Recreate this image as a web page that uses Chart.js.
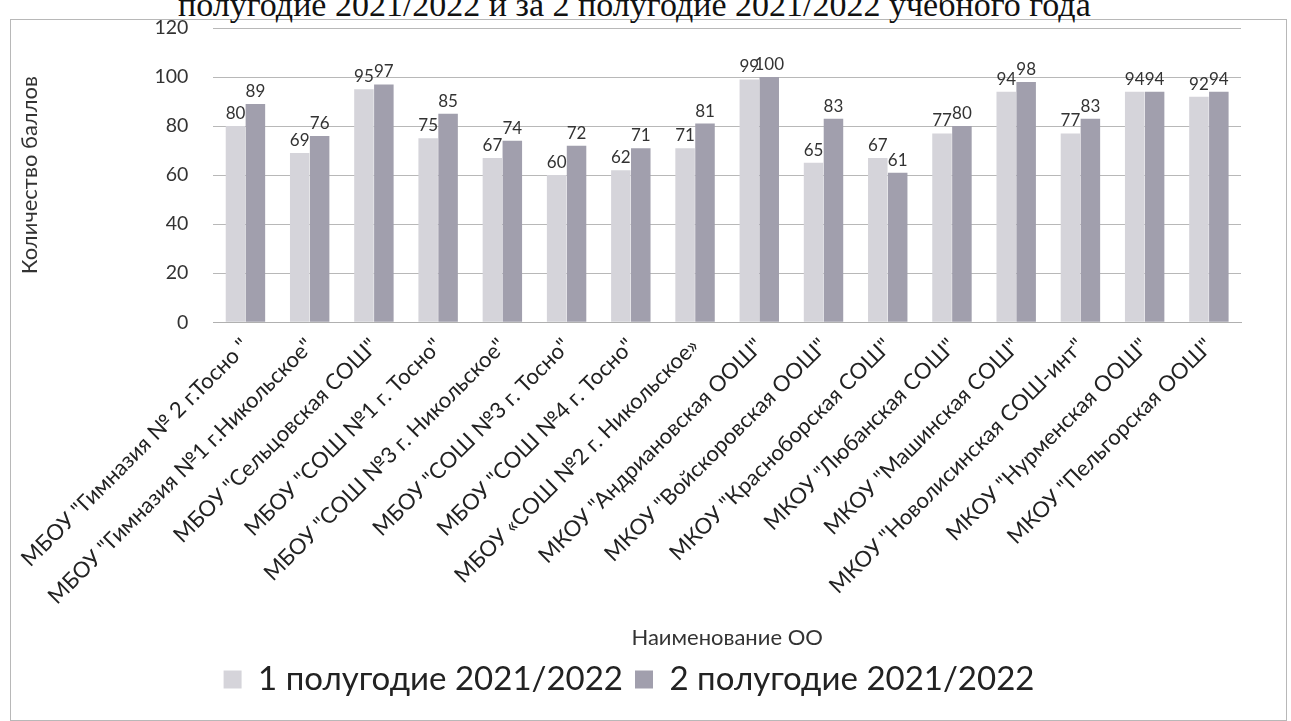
<!DOCTYPE html>
<html>
<head>
<meta charset="utf-8">
<script src="https://cdn.jsdelivr.net/npm/chart.js@4.4.0/dist/chart.umd.min.js"></script>
<style>
  body { margin: 0; background: #fff; }
  #wrap { position: relative; width: 1291px; height: 721px; overflow: hidden; }
  #frame { position: absolute; left: 10px; top: 19px; width: 1275px; height: 700px; border: 1px solid #b8b8b8; }
  #title { position: absolute; left: 178px; top: -12px; font: 34px/34px "Liberation Serif", serif; color: #111; white-space: nowrap; }
  canvas { position: absolute; left: 0; top: 0; }
</style>
</head>
<body>
<div id="wrap">
  <div id="frame"></div>
  <div id="title">полугодие 2021/2022 и за 2 полугодие 2021/2022 учебного года</div>
  <canvas id="chart" width="1291" height="721"></canvas>
</div>
<script>
var schools = [
  'МБОУ "Гимназия № 2 г.Тосно "',
  'МБОУ "Гимназия №1 г.Никольское"',
  'МБОУ "Сельцовская СОШ"',
  'МБОУ "СОШ №1 г. Тосно"',
  'МБОУ "СОШ №3 г. Никольское"',
  'МБОУ "СОШ №3 г. Тосно"',
  'МБОУ "СОШ №4 г. Тосно"',
  'МБОУ «СОШ №2 г. Никольское»',
  'МКОУ "Андриановская ООШ"',
  'МКОУ "Войскоровская ООШ"',
  'МКОУ "Красноборская СОШ"',
  'МКОУ "Любанская СОШ"',
  'МКОУ "Машинская СОШ"',
  'МКОУ "Новолисинская СОШ-инт"',
  'МКОУ "Нурменская ООШ"',
  'МКОУ "Пельгорская ООШ"'
];
var half1 = [80, 69, 95, 75, 67, 60, 62, 71, 99, 65, 67, 77, 94, 77, 94, 92];
var half2 = [89, 76, 97, 85, 74, 72, 71, 81, 100, 83, 61, 80, 98, 83, 94, 94];
var seriesNames = ['1 полугодие 2021/2022', '2 полугодие 2021/2022'];

var FONT = 'Lato, "Open Sans", sans-serif';

// value labels above the bars
var barLabels = {
  id: 'barLabels',
  afterDatasetsDraw: function(chart) {
    var ctx = chart.ctx;
    ctx.save();
    ctx.font = '17px ' + FONT;
    ctx.fillStyle = '#333';
    ctx.textAlign = 'center';
    ctx.textBaseline = 'bottom';
    chart.data.datasets.forEach(function(ds, i) {
      chart.getDatasetMeta(i).data.forEach(function(bar, j) {
        ctx.fillText(ds.data[j], bar.x, bar.y - 4);
      });
    });
    ctx.restore();
  }
};

new Chart(document.getElementById('chart'), {
  type: 'bar',
  data: {
    labels: schools,
    datasets: [{
      label: seriesNames[0],
      data: half1,
      backgroundColor: '#d5d4da'
    }, {
      label: seriesNames[1],
      data: half2,
      backgroundColor: '#a19fad'
    }]
  },
  options: {
    responsive: false,
    animation: false,
    layout: { padding: { left: 17, right: 50, top: 28, bottom: 15 } },
    datasets: {
      bar: { categoryPercentage: 0.62, barPercentage: 0.98 }
    },
    plugins: {
      legend: {
        position: 'bottom',
        labels: {
          font: { family: FONT, size: 33 },
          color: '#222',
          boxWidth: 18,
          boxHeight: 18,
          padding: 12
        }
      },
      tooltip: { enabled: false }
    },
    scales: {
      x: {
        grid: { display: false },
        border: { color: '#b0b0b0' },
        ticks: {
          font: { family: FONT, size: 22 },
          color: '#222',
          minRotation: 45,
          maxRotation: 45,
          autoSkip: false
        },
        title: {
          display: true,
          text: 'Наименование ОО',
          font: { family: FONT, size: 22 },
          color: '#333',
          padding: { top: 12, bottom: 0 }
        }
      },
      y: {
        min: 0,
        max: 120,
        // the wide tick padding would otherwise push the plot top down
        afterFit: function(scale) {
          scale.paddingTop = 12;
          scale.paddingBottom = 12;
        },
        ticks: {
          stepSize: 20,
          font: { family: FONT, size: 19.5 },
          color: '#333',
          padding: 25
        },
        grid: { color: '#b8b8b8', drawTicks: false },
        border: { display: false },
        title: {
          display: true,
          text: 'Количество баллов',
          font: { family: FONT, size: 22 },
          color: '#333',
          padding: { top: 0, bottom: 86 }
        }
      }
    }
  },
  plugins: [barLabels]
});
</script>
</body>
</html>
